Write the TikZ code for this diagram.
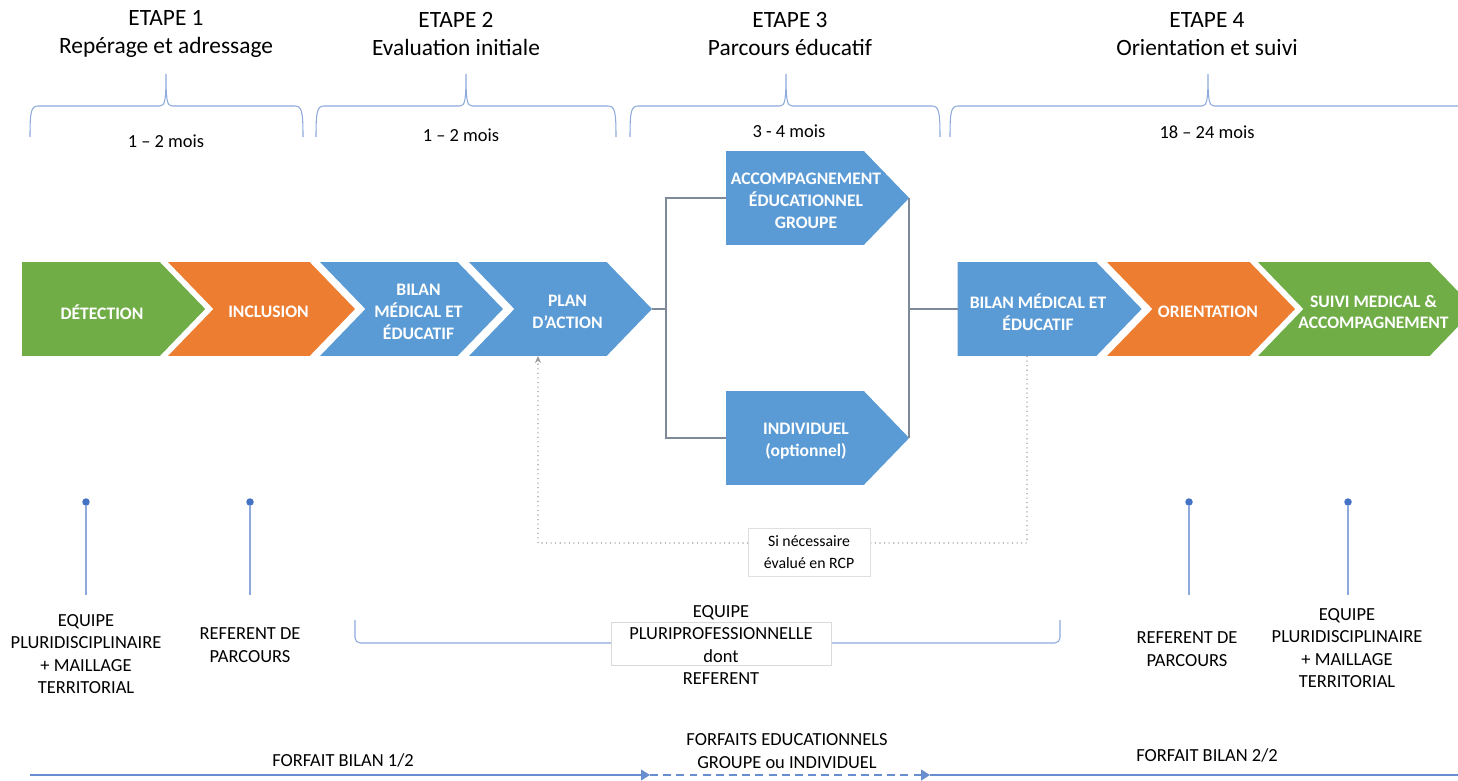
\documentclass[tikz,border=0pt]{standalone}
\usepackage{fontspec}
\setmainfont{Carlito}
\usetikzlibrary{shapes.symbols,arrows.meta}

\definecolor{vert}{HTML}{70AD47}
\definecolor{orangeoff}{HTML}{ED7D31}
\definecolor{bleu}{HTML}{5B9BD5}
\definecolor{bleufonce}{HTML}{4472C4}
\definecolor{trait}{HTML}{8EA9DB}
\definecolor{lien}{HTML}{7F8A99}

\tikzset{
  chev/.style={shape=signal, signal to=east, signal from=west, signal pointer angle=92,
    minimum width=3.66cm, minimum height=1.88cm, inner sep=0pt, outer sep=0pt},
  flat/.style={signal from=nowhere},
  lbl/.style={text=white, font=\fontsize{10}{12.5}\selectfont\bfseries, align=center, yshift=-0.06cm},
  lblin/.style={label={[lbl,xshift=0.14cm]center:#1}},
  lblflat/.style={label={[lbl,xshift=0.22cm]center:#1}},
  titre/.style={align=center, font=\fontsize{13.3}{15.9}\selectfont},
  duree/.style={font=\fontsize{10.5}{12.8}\selectfont},
  acteur/.style={align=center, font=\fontsize{10.5}{12.8}\selectfont},
  accolade/.style={draw=trait, line width=0.6pt},
  lien/.style={draw=lien, line width=0.8pt},
  retour/.style={draw=gray!80, line width=0.6pt, dotted, -{Stealth[length=4pt,width=3.5pt]}},
  rcp/.style={draw=gray!25, fill=white, align=center, font=\fontsize{9}{12.5}\selectfont,
    minimum width=2.44cm, minimum height=0.96cm, inner sep=1pt},
  point/.style={circle, fill=bleufonce, inner sep=0pt, minimum size=0.15cm},
  tige/.style={draw=trait, line width=0.8pt},
  cadre/.style={draw=gray!30, fill=white, minimum width=4.4cm, minimum height=0.86cm, inner sep=0pt},
  frise/.style={draw=bleufonce!80, line width=0.8pt}
}

\begin{document}
\begin{tikzpicture}[x=0.02cm,y=-0.02cm]
  \useasboundingbox (0,0) rectangle (1458,781);

  % etapes et durees
  \node[titre] (e1) at (166,34) {ETAPE 1\\Repérage et adressage};
  \node[titre] (e2) at (456,34) {ETAPE 2\\Evaluation initiale};
  \node[titre] (e3) at (790,34) {ETAPE 3\\Parcours éducatif};
  \node[titre] (e4) at (1207,34) {ETAPE 4\\Orientation et suivi};
  \foreach \a/\m/\b in {30/166/303,316/466/616,630/786/940,950/1208/1466}
    \draw[accolade] (\a,137) .. controls (\a,112) and (\a+1,106) .. (\a+8,106)
      -- (\m-6,106) .. controls (\m-1,106) and (\m,100) .. (\m,74)
      .. controls (\m,100) and (\m+1,106) .. (\m+6,106)
      -- (\b-8,106) .. controls (\b-1,106) and (\b,112) .. (\b,137);
  \node[duree] (d1) at (166,141) {1 – 2 mois};
  \node[duree] (d2) at (461,135) {1 – 2 mois};
  \node[duree] (d3) at (789,131) {3 - 4 mois};
  \node[duree] (d4) at (1207,132) {18 – 24 mois};

  % chevrons
  \node[chev,flat,fill=vert,lblflat={DÉTECTION}] (det) at (91,309) {};
  \node[chev,fill=orangeoff,minimum width=3.74cm,lblin={INCLUSION}] (inc) at (261.5,309) {};
  \node[chev,fill=bleu,lblin={BILAN\\MÉDICAL ET\\ÉDUCATIF}] (bil) at (411.5,309) {};
  \node[chev,fill=bleu,lblin={PLAN\\D’ACTION}] (plan) at (560.5,309) {};
  \node[chev,flat,fill=bleu,lblflat={ACCOMPAGNEMENT\\ÉDUCATIONNEL\\GROUPE}] (acc) at (795,198) {};
  \node[chev,flat,fill=bleu,lblflat={INDIVIDUEL\\(optionnel)}] (ind) at (795,438) {};
  \node[chev,flat,fill=bleu,minimum width=3.68cm,lblflat={BILAN MÉDICAL ET\\ÉDUCATIF}] (bil2) at (1027,309) {};
  \node[chev,fill=orangeoff,minimum width=3.76cm,lblin={ORIENTATION}] (ori) at (1201,309) {};
  \node[chev,fill=vert,minimum width=4.34cm,lblin={SUIVI MEDICAL \&\\ACCOMPAGNEMENT}] (suivi) at (1366.5,309) {};

  % parcours educatif
  \coordinate (split) at (666,309);
  \coordinate (join) at (909,309);
  \draw[lien] (plan.east) -- (split);
  \draw[lien] (acc.west) -| (split) |- (ind.west);
  \draw[lien] (acc.east) -- (ind.east);
  \draw[lien] (join) -- (bil2.west);

  % retour si necessaire
  \coordinate (boucle) at (538,543);
  \draw[retour] (bil2.south) |- (boucle) -- ([xshift=-0.45cm]plan.south);
  \node[rcp] (rcp) at (809,552) {Si nécessaire\\évalué en RCP};

  % acteurs
  \foreach \n/\x in {1/86,2/250,3/1189,4/1348} {
    \node[point] (p\n) at (\x,502) {};
    \coordinate (q\n) at (\x,595);
    \draw[tige] (p\n) -- (q\n);
  }
  \node[acteur] (a1) at (86,654) {EQUIPE\\PLURIDISCIPLINAIRE\\+ MAILLAGE\\TERRITORIAL};
  \node[acteur] (a2) at (250,645) {REFERENT DE\\PARCOURS};
  \node[acteur] (a3) at (1187,649) {REFERENT DE\\PARCOURS};
  \node[acteur] (a4) at (1347,648) {EQUIPE\\PLURIDISCIPLINAIRE\\+ MAILLAGE\\TERRITORIAL};

  \coordinate (cg) at (355,620);
  \coordinate (cd) at (1060,620);
  \draw[accolade,rounded corners=3] (cg) |- (721,643) -| (cd);
  \node[cadre] (cadre) at (721,643.5) {};
  \node[acteur] (equipe) at (721,645) {EQUIPE\\PLURIPROFESSIONNELLE\\dont\\REFERENT};

  % forfaits
  \coordinate (f0) at (30,775);
  \coordinate (f1) at (650,775);
  \coordinate (f2) at (930,775);
  \coordinate (f3) at (1458,775);
  \draw[frise,-{Triangle[length=5pt,width=6pt]}] (f0) -- (f1);
  \draw[frise,line width=1pt,dash pattern=on 4.5pt off 3pt,-{Triangle[length=5pt,width=6pt]}] (f1) -- (f2);
  \draw[frise] (f2) -- (f3);
  \node[acteur] (fb1) at (343,760) {FORFAIT BILAN 1/2};
  \node[acteur] (fe) at (787,751) {FORFAITS EDUCATIONNELS\\GROUPE ou INDIVIDUEL};
  \node[acteur] (fb2) at (1207,755) {FORFAIT BILAN 2/2};
\end{tikzpicture}
\end{document}
